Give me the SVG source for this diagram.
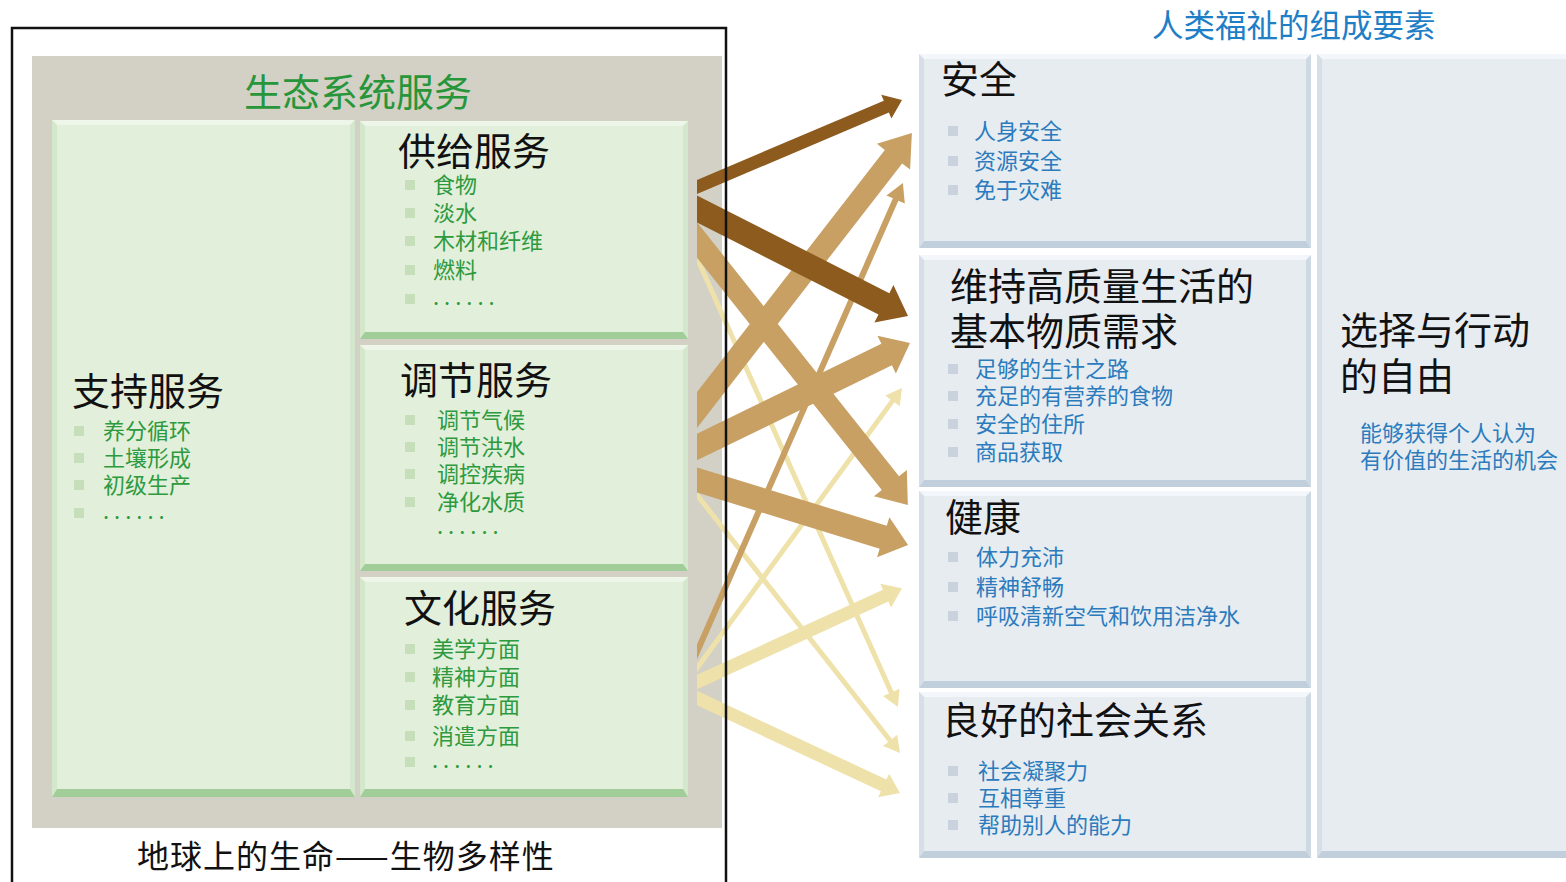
<svg xmlns="http://www.w3.org/2000/svg" width="1566" height="882" viewBox="0 0 1566 882">
<style>
text{font-family:"Noto Sans CJK SC","Noto Sans",sans-serif;dominant-baseline:central}
.h{font-size:38px;fill:#111}
.gi{font-size:22px;fill:#2E9A3E}
.bi{font-size:22px;fill:#2B7BBD}
.dots{font-size:22px;fill:#2E9A3E;letter-spacing:5px}
.gB{fill:#E2EFDA}.gT{fill:#EDF6E8}.gL{fill:#D3E8CB}.gR{fill:#D3E7CC}.gD{fill:#A0CD98}
.bB{fill:#E7ECF1}.bT{fill:#F3F6FA}.bL{fill:#D6DEE7}.bR{fill:#CFD9E3}.bD{fill:#C1CFDD}
.gs{fill:#C6DFBA}.bs{fill:#CAD3DD}
.dk{fill:#8E5B1F}.tn{fill:#C8A063}.lt{fill:#EEE2AA}
</style>
<defs>
<clipPath id="ac"><rect x="697" y="0" width="869" height="882"/></clipPath>
</defs>
<rect x="0" y="0" width="1566" height="882" fill="#fff"/>

<!-- gray panel -->
<rect id="panel" x="32" y="56" width="690" height="772" fill="#D3D0C5"/>
<text x="358" y="89" text-anchor="middle" style="font-size:38px;fill:#27963A">生态系统服务</text>

<g id="support">
<rect class="gB" x="52" y="120" width="303" height="677"/>
<polygon class="gT" points="52,120 355,120 350,125 57,125"/>
<polygon class="gL" points="52,120 57,125 57,789 52,797"/>
<polygon class="gR" points="355,120 350,125 350,789 355,797"/>
<polygon class="gD" points="52,797 355,797 350,789 57,789"/>
<text class="h" x="72" y="388">支持服务</text>
<rect class="gs" x="74" y="426" width="10" height="10"/><text class="gi" x="103" y="429">养分循环</text>
<rect class="gs" x="74" y="453" width="10" height="10"/><text class="gi" x="103" y="456">土壤形成</text>
<rect class="gs" x="74" y="480" width="10" height="10"/><text class="gi" x="103" y="483">初级生产</text>
<rect class="gs" x="74" y="508" width="10" height="10"/><text class="dots" x="103" y="509">......</text>
</g>

<g id="provisioning">
<rect class="gB" x="360" y="121" width="328" height="218"/>
<polygon class="gT" points="360,121 688,121 683,126 365,126"/>
<polygon class="gL" points="360,121 365,126 365,332 360,339"/>
<polygon class="gR" points="688,121 683,126 683,332 688,339"/>
<polygon class="gD" points="360,339 688,339 683,332 365,332"/>
<text class="h" x="398" y="148">供给服务</text>
<rect class="gs" x="405" y="180" width="10" height="10"/><text class="gi" x="433" y="183">食物</text>
<rect class="gs" x="405" y="208" width="10" height="10"/><text class="gi" x="433" y="211">淡水</text>
<rect class="gs" x="405" y="236" width="10" height="10"/><text class="gi" x="433" y="239">木材和纤维</text>
<rect class="gs" x="405" y="265" width="10" height="10"/><text class="gi" x="433" y="268">燃料</text>
<rect class="gs" x="405" y="294" width="10" height="10"/><text class="dots" x="433" y="295">......</text>
</g>

<g id="regulating">
<rect class="gB" x="360" y="345" width="328" height="226"/>
<polygon class="gT" points="360,345 688,345 683,350 365,350"/>
<polygon class="gL" points="360,345 365,350 365,564 360,571"/>
<polygon class="gR" points="688,345 683,350 683,564 688,571"/>
<polygon class="gD" points="360,571 688,571 683,564 365,564"/>
<text class="h" x="400" y="377">调节服务</text>
<rect class="gs" x="405" y="415" width="10" height="10"/><text class="gi" x="437" y="418">调节气候</text>
<rect class="gs" x="405" y="442" width="10" height="10"/><text class="gi" x="437" y="445">调节洪水</text>
<rect class="gs" x="405" y="469" width="10" height="10"/><text class="gi" x="437" y="472">调控疾病</text>
<rect class="gs" x="405" y="497" width="10" height="10"/><text class="gi" x="437" y="500">净化水质</text>
<text class="dots" x="437" y="524">......</text>
</g>

<g id="cultural">
<rect class="gB" x="360" y="577" width="328" height="220"/>
<polygon class="gT" points="360,577 688,577 683,582 365,582"/>
<polygon class="gL" points="360,577 365,582 365,789 360,797"/>
<polygon class="gR" points="688,577 683,582 683,789 688,797"/>
<polygon class="gD" points="360,797 688,797 683,789 365,789"/>
<text class="h" x="404" y="605">文化服务</text>
<rect class="gs" x="405" y="644" width="10" height="10"/><text class="gi" x="432" y="647">美学方面</text>
<rect class="gs" x="405" y="672" width="10" height="10"/><text class="gi" x="432" y="675">精神方面</text>
<rect class="gs" x="405" y="700" width="10" height="10"/><text class="gi" x="432" y="703">教育方面</text>
<rect class="gs" x="405" y="731" width="10" height="10"/><text class="gi" x="432" y="734">消遣方面</text>
<rect class="gs" x="405" y="757" width="10" height="10"/><text class="dots" x="432" y="758">......</text>
</g>

<text id="biodiversity" x="137" y="854" style="font-size:32px;fill:#111;letter-spacing:1px">地球上的生命——生物多样性</text>

<text id="wb-title" x="1152" y="23" style="font-size:31.5px;fill:#1E7EC6">人类福祉的组成要素</text>

<g id="security">
<rect class="bB" x="919" y="54" width="392" height="194"/>
<polygon class="bT" points="919,54 1311,54 1306,59 924,59"/>
<polygon class="bL" points="919,54 924,59 924,241 919,248"/>
<polygon class="bR" points="1311,54 1306,59 1306,241 1311,248"/>
<polygon class="bD" points="919,248 1311,248 1306,241 924,241"/>
<text class="h" x="941" y="76">安全</text>
<rect class="bs" x="948" y="126" width="10" height="10"/><text class="bi" x="974" y="129">人身安全</text>
<rect class="bs" x="948" y="156" width="10" height="10"/><text class="bi" x="974" y="159">资源安全</text>
<rect class="bs" x="948" y="185" width="10" height="10"/><text class="bi" x="974" y="188">免于灾难</text>
</g>

<g id="material">
<rect class="bB" x="919" y="255" width="392" height="232"/>
<polygon class="bT" points="919,255 1311,255 1306,260 924,260"/>
<polygon class="bL" points="919,255 924,260 924,480 919,487"/>
<polygon class="bR" points="1311,255 1306,260 1306,480 1311,487"/>
<polygon class="bD" points="919,487 1311,487 1306,480 924,480"/>
<text class="h" x="950" y="283">维持高质量生活的</text>
<text class="h" x="950" y="328">基本物质需求</text>
<rect class="bs" x="948" y="364" width="10" height="10"/><text class="bi" x="975" y="367">足够的生计之路</text>
<rect class="bs" x="948" y="391" width="10" height="10"/><text class="bi" x="975" y="394">充足的有营养的食物</text>
<rect class="bs" x="948" y="419" width="10" height="10"/><text class="bi" x="975" y="422">安全的住所</text>
<rect class="bs" x="948" y="447" width="10" height="10"/><text class="bi" x="975" y="450">商品获取</text>
</g>

<g id="health">
<rect class="bB" x="919" y="491" width="392" height="197"/>
<polygon class="bT" points="919,491 1311,491 1306,496 924,496"/>
<polygon class="bL" points="919,491 924,496 924,681 919,688"/>
<polygon class="bR" points="1311,491 1306,496 1306,681 1311,688"/>
<polygon class="bD" points="919,688 1311,688 1306,681 924,681"/>
<text class="h" x="945" y="514">健康</text>
<rect class="bs" x="948" y="552" width="10" height="10"/><text class="bi" x="976" y="555">体力充沛</text>
<rect class="bs" x="948" y="582" width="10" height="10"/><text class="bi" x="976" y="585">精神舒畅</text>
<rect class="bs" x="948" y="611" width="10" height="10"/><text class="bi" x="976" y="614">呼吸清新空气和饮用洁净水</text>
</g>

<g id="social">
<rect class="bB" x="919" y="692" width="392" height="166"/>
<polygon class="bT" points="919,692 1311,692 1306,697 924,697"/>
<polygon class="bL" points="919,692 924,697 924,851 919,858"/>
<polygon class="bR" points="1311,692 1306,697 1306,851 1311,858"/>
<polygon class="bD" points="919,858 1311,858 1306,851 924,851"/>
<text class="h" x="942" y="717">良好的社会关系</text>
<rect class="bs" x="948" y="766" width="10" height="10"/><text class="bi" x="978" y="769">社会凝聚力</text>
<rect class="bs" x="948" y="793" width="10" height="10"/><text class="bi" x="978" y="796">互相尊重</text>
<rect class="bs" x="948" y="820" width="10" height="10"/><text class="bi" x="978" y="823">帮助别人的能力</text>
</g>

<g id="freedom">
<rect class="bB" x="1317" y="54" width="260" height="804"/>
<polygon class="bT" points="1317,54 1577,54 1572,59 1322,59"/>
<polygon class="bL" points="1317,54 1322,59 1322,851 1317,858"/>
<polygon class="bD" points="1317,858 1577,858 1572,851 1322,851"/>
<text class="h" x="1340" y="327">选择与行动</text>
<text class="h" x="1340" y="373">的自由</text>
<text class="bi" x="1360" y="431">能够获得个人认为</text>
<text class="bi" x="1360" y="458">有价值的生活的机会</text>
</g>

<g id="connectors" clip-path="url(#ac)">
<polygon class="lt" transform="translate(697,258) rotate(65.9)" points="-15,-2.5 475.9,-2.5 475.9,-9 491.9,0 475.9,9 475.9,2.5 -15,2.5"/>
<polygon class="lt" transform="translate(697,495) rotate(51.8)" points="-15,-2.5 312.3,-2.5 312.3,-9 328.3,0 312.3,9 312.3,2.5 -15,2.5"/>
<polygon class="lt" transform="translate(697,668) rotate(-53.8)" points="-15,-2.5 331,-2.5 331,-9 347,0 331,9 331,2.5 -15,2.5"/>
<polygon class="lt" transform="translate(697,682) rotate(-24.6)" points="-15,-6.5 207.5,-6.5 207.5,-13 225.5,0 207.5,13 207.5,6.5 -15,6.5"/>
<polygon class="lt" transform="translate(697,698) rotate(25.1)" points="-15,-6.5 206.1,-6.5 206.1,-13 224.1,0 206.1,13 206.1,6.5 -15,6.5"/>
<polygon class="tn" transform="translate(697,652) rotate(-66.3)" points="-15,-3 494.2,-3 494.2,-10 512.2,0 494.2,10 494.2,3 -15,3"/>
<polygon class="tn" transform="translate(697,240) rotate(51.5)" points="-15,-11 310.7,-11 310.7,-21 338.7,0 310.7,21 310.7,11 -15,11"/>
<polygon class="tn" transform="translate(697,410) rotate(-52.2)" points="-15,-11 320.6,-11 320.6,-21 350.6,0 320.6,21 320.6,11 -15,11"/>
<polygon class="tn" transform="translate(697,447) rotate(-26)" points="-15,-12 211,-12 211,-21 237,0 211,21 211,12 -15,12"/>
<polygon class="tn" transform="translate(697,480) rotate(17.1)" points="-15,-12 194.8,-12 194.8,-21 220.8,0 194.8,21 194.8,12 -15,12"/>
<polygon class="dk" transform="translate(697,187) rotate(-23)" points="-15,-6.5 205.7,-6.5 205.7,-13 222.7,0 205.7,13 205.7,6.5 -15,6.5"/>
<polygon class="dk" transform="translate(697,209) rotate(26.9)" points="-15,-12 209.6,-12 209.6,-21 236.6,0 209.6,21 209.6,12 -15,12"/>
</g>

<path id="frame" d="M12,882 V28 H726 V882" fill="none" stroke="#111" stroke-width="2.5"/>
</svg>
